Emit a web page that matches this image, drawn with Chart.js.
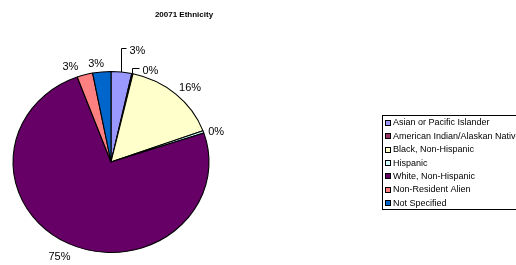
<!DOCTYPE html>
<html>
<head>
<meta charset="utf-8">
<script src="https://cdn.jsdelivr.net/npm/chart.js@4.4.1/dist/chart.umd.min.js"></script>
<style>
  html, body { margin: 0; padding: 0; background: #ffffff; }
  #wrap { width: 516px; height: 265px; position: relative; }
</style>
</head>
<body>
<div id="wrap"><canvas id="c" width="516" height="265"></canvas></div>
<script>
// ---- data ----
const chartTitle = '20071 Ethnicity';
const categories = [
  'Asian or Pacific Islander',
  'American Indian/Alaskan Native',
  'Black, Non-Hispanic',
  'Hispanic',
  'White, Non-Hispanic',
  'Non-Resident Alien',
  'Not Specified'
];
const shares = [3.4, 0.2, 15.8, 0.4, 74.6, 2.6, 3.0];
const sliceColors = ['#9999FF', '#993366', '#FFFFCC', '#CCFFFF', '#660066', '#FF8080', '#0066CC'];

// ---- style / layout (not data) ----
const stretchX = 98 / 90.5;              // source picture is horizontally stretched
const leaderRise = [24, 6, 0, 0, 0, 0, 0]; // leader line lengths for crowded labels
const leaderRun = [5, 7, 0, 0, 0, 0, 0];
const labelNudgeX = [0, 0, 0, 0, 0, -10, -4];
const labelNudgeY = [0, 0, 0, 1.5, 1, 0, 0];

const ellipsePlugin = {
  id: 'ellipse',
  beforeDatasetsDraw(chart) {
    const arc = chart.getDatasetMeta(0).data[0];
    const ctx = chart.ctx;
    ctx.save();
    ctx.translate(arc.x, arc.y);
    ctx.scale(stretchX, 1);
    ctx.translate(-arc.x, -arc.y);
  },
  afterDatasetsDraw(chart) {
    chart.ctx.restore();
  }
};

const decorPlugin = {
  id: 'decor',
  afterDraw(chart) {
    const ctx = chart.ctx;
    const vals = chart.data.datasets[0].data;
    const total = vals.reduce((a, b) => a + b, 0);
    const meta = chart.getDatasetMeta(0);

    // title
    ctx.save();
    ctx.fillStyle = '#000';
    ctx.font = 'bold 8px "Liberation Sans", Arial, sans-serif';
    ctx.textAlign = 'center';
    ctx.textBaseline = 'middle';
    ctx.fillText(chartTitle, 184, 14.5);
    ctx.restore();

    // data labels
    ctx.save();
    ctx.font = '11px "Liberation Sans", Arial, sans-serif';
    ctx.fillStyle = '#000';
    ctx.strokeStyle = '#000';
    ctx.lineWidth = 1;
    meta.data.forEach((arc, i) => {
      const txt = Math.round(vals[i] / total * 100) + '%';
      const mid = (arc.startAngle + arc.endAngle) / 2;
      const r = arc.outerRadius;
      const dx = Math.cos(mid), dy = Math.sin(mid);
      const px = arc.x + dx * r * stretchX;
      const py = arc.y + dy * r;
      const w = ctx.measureText(txt).width;
      if (leaderRise[i] > 0) {
        const lx = Math.round(px) + 0.5;
        const qy = Math.round(py - leaderRise[i]) + 0.5;
        ctx.beginPath();
        ctx.moveTo(lx, py);
        ctx.lineTo(lx, qy);
        ctx.lineTo(lx + leaderRun[i], qy);
        ctx.stroke();
        ctx.textAlign = 'left';
        ctx.textBaseline = 'middle';
        ctx.fillText(txt, lx + leaderRun[i] + 3, qy + 2.5);
      } else {
        const g = 5, h = 10;
        const cl = v => Math.max(-1, Math.min(1, v));
        const cx = px + dx * g + cl(1.5 * dx) * w / 2 + labelNudgeX[i];
        const cy = py + dy * g + cl(1.5 * dy) * h / 2 + 2.5 + labelNudgeY[i];
        ctx.textAlign = 'center';
        ctx.textBaseline = 'middle';
        ctx.fillText(txt, cx, cy);
      }
    });
    ctx.restore();

    // legend
    ctx.save();
    const boxL = 382.5, boxT = 115.5, boxH = 94, rowH = 13.36;
    ctx.strokeStyle = '#000';
    ctx.lineWidth = 1;
    ctx.strokeRect(boxL, boxT, 200, boxH);
    ctx.font = '9px "Liberation Sans", Arial, sans-serif';
    ctx.textAlign = 'left';
    ctx.textBaseline = 'middle';
    chart.data.labels.forEach((lab, i) => {
      const y = boxT + 7 + i * rowH;
      const sy = Math.round(y - 2.5) + 0.5;
      ctx.fillStyle = sliceColors[i];
      ctx.fillRect(385.5, sy, 5, 5);
      ctx.strokeStyle = '#000';
      ctx.strokeRect(385.5, sy, 5, 5);
      ctx.fillStyle = '#000';
      ctx.fillText(lab, 393, y + 0.5);
    });
    ctx.restore();
  }
};

new Chart(document.getElementById('c'), {
  type: 'pie',
  data: {
    labels: categories,
    datasets: [{
      data: shares,
      backgroundColor: sliceColors,
      borderColor: '#000',
      borderWidth: 1,
      clip: false
    }]
  },
  options: {
    responsive: false,
    animation: false,
    events: [],
    layout: { padding: { left: 20, top: 71, right: 314, bottom: 12 } },
    plugins: {
      legend: { display: false },
      title: { display: false },
      tooltip: { enabled: false }
    }
  },
  plugins: [ellipsePlugin, decorPlugin]
});
</script>
</body>
</html>
